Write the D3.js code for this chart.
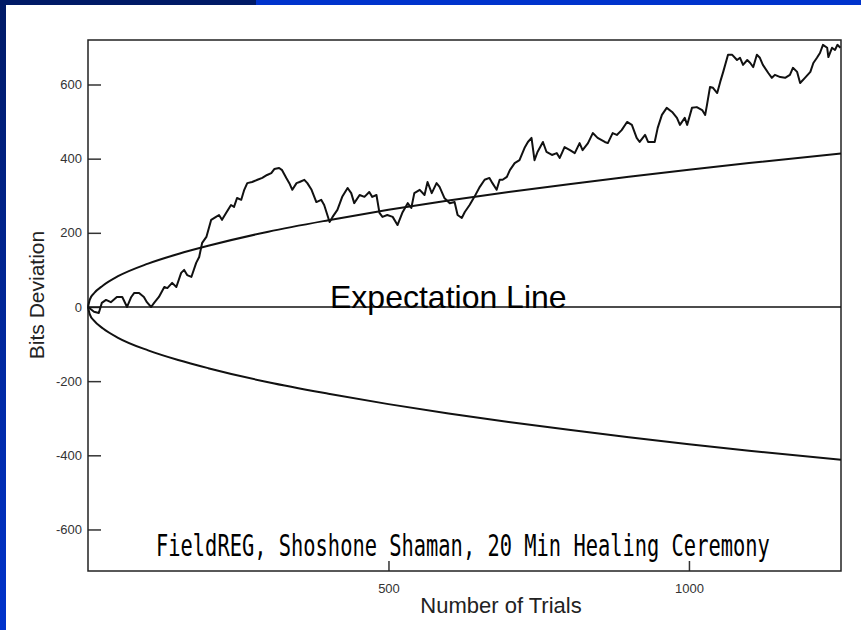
<!DOCTYPE html>
<html>
<head>
<meta charset="utf-8">
<script src="https://cdn.jsdelivr.net/npm/d3@7"></script>
<style>
  body { margin: 0; background: #fff; }
  svg { display: block; }
</style>
</head>
<body>
<div id="chart"></div>
<script>
// cumulative deviation trace
var trials = [0,10,18,23,30,38,48,57,65,72,77,85,93,98,105,110,118,127,132,140,147,155,160,165,172,180,185,190,197,205,213,218,223,230,238,243,248,255,260,265,273,282,290,298,305,310,318,323,330,335,340,347,352,360,365,372,380,388,393,402,407,415,423,432,438,443,452,460,468,473,480,485,490,498,507,515,523,532,538,543,552,560,565,572,580,585,593,602,610,615,622,627,635,643,652,660,668,673,680,685,690,697,702,710,718,727,732,738,743,748,757,763,772,780,785,793,802,810,818,823,832,840,848,860,865,873,880,888,897,905,913,918,927,932,943,948,955,963,972,980,985,993,997,1005,1013,1022,1027,1030,1035,1040,1047,1052,1057,1065,1072,1080,1085,1090,1097,1102,1107,1113,1118,1123,1132,1138,1143,1152,1160,1168,1173,1180,1185,1193,1202,1207,1213,1218,1223,1230,1232,1238,1243,1247,1252];
var deviation = [0,-13,-16,11,19,13,27,27,0,27,38,38,27,13,0,11,27,54,51,65,54,92,100,86,81,119,135,173,189,235,243,248,235,254,275,270,294,289,316,334,337,343,348,356,361,372,375,369,348,334,316,334,337,343,334,316,283,289,275,229,243,262,297,321,307,280,302,297,310,297,302,254,243,248,243,221,254,280,267,307,316,302,337,307,334,324,294,280,283,248,240,256,275,297,324,343,348,334,316,343,343,351,369,388,396,431,445,456,396,418,445,418,410,415,402,431,423,415,442,423,442,469,456,445,442,469,464,477,499,491,456,445,464,445,445,483,518,537,526,510,491,510,491,537,539,531,518,545,593,591,577,607,634,680,680,666,672,653,666,658,647,680,672,653,631,618,626,620,618,626,645,634,604,618,634,658,672,685,707,699,674,699,693,707,699];

// confidence envelope
var envTrials = [0,3,10,25,50,100,150,200,300,400,500,600,700,800,900,1000,1100,1253];
var envUpper = [0,20,37,58,83,117,143,165,203,234,262,287,310,331,351,370,388,414];
var envLower = [0,-20,-37,-58,-83,-117,-143,-165,-203,-234,-262,-287,-310,-331,-351,-370,-388,-412];

var xTicks = [500, 1000];
var yTicks = [-600, -400, -200, 0, 200, 400, 600];

var svgWidth = 861;
var svgHeight = 630;

var margin = { top: 40, right: 20, bottom: 59, left: 88 };
var width = svgWidth - margin.left - margin.right;
var height = svgHeight - margin.top - margin.bottom;

var svg = d3.select("#chart")
    .append("svg")
    .attr("width", svgWidth)
    .attr("height", svgHeight);

// slide frame
var grad = svg.append("defs").append("linearGradient")
    .attr("id", "sideGrad")
    .attr("x1", 0).attr("y1", 0).attr("x2", 0).attr("y2", 1);
grad.append("stop").attr("offset", "0%").attr("stop-color", "#001a66");
grad.append("stop").attr("offset", "100%").attr("stop-color", "#0033cc");

svg.append("rect").attr("x", 0).attr("y", 0).attr("width", 6).attr("height", svgHeight).attr("fill", "url(#sideGrad)");
svg.append("rect").attr("x", 0).attr("y", 0).attr("width", 256).attr("height", 5).attr("fill", "#001a66");
svg.append("rect").attr("x", 256).attr("y", 0).attr("width", svgWidth - 256).attr("height", 5).attr("fill", "#0033cc");

var chartGroup = svg.append("g")
    .attr("transform", `translate(${margin.left}, ${margin.top})`);

var xLinearScale = d3.scaleLinear()
    .domain([0, 1253])
    .range([0, width]);

var yLinearScale = d3.scaleLinear()
    .domain([-712, 720])
    .range([height, 0]);

// axes with inward ticks, plain hyphen minus and no thousands comma
var bottomAxis = d3.axisBottom(xLinearScale)
    .tickValues(xTicks)
    .tickFormat(d => String(d))
    .tickSizeInner(-10)
    .tickSizeOuter(0)
    .tickPadding(13);

var leftAxis = d3.axisLeft(yLinearScale)
    .tickValues(yTicks)
    .tickFormat(d => String(d))
    .tickSizeInner(-13)
    .tickSizeOuter(0)
    .tickPadding(6);

var xAxisG = chartGroup.append("g")
    .attr("transform", `translate(0, ${height})`)
    .call(bottomAxis);

var yAxisG = chartGroup.append("g")
    .call(leftAxis);

[xAxisG, yAxisG].forEach(function(g) {
    g.select(".domain").remove();
    g.selectAll("line").attr("stroke", "#333").attr("stroke-width", 1.5);
    g.selectAll("text")
      .attr("font-family", "Liberation Sans, Arial, sans-serif")
      .attr("font-size", "13px")
      .attr("fill", "#333");
});

// frame box
chartGroup.append("rect")
    .attr("x", 0).attr("y", 0)
    .attr("width", width).attr("height", height)
    .attr("fill", "none")
    .attr("stroke", "#222")
    .attr("stroke-width", 1.5);

// expectation line
chartGroup.append("line")
    .attr("x1", 0).attr("x2", width)
    .attr("y1", yLinearScale(0)).attr("y2", yLinearScale(0))
    .attr("stroke", "#111")
    .attr("stroke-width", 1.5);

var envLine = d3.line()
    .x((d, i) => xLinearScale(envTrials[i]))
    .y(d => yLinearScale(d))
    .curve(d3.curveMonotoneX);

chartGroup.append("path")
    .attr("d", envLine(envUpper))
    .attr("fill", "none")
    .attr("stroke", "#111")
    .attr("stroke-width", 2);

chartGroup.append("path")
    .attr("d", envLine(envLower))
    .attr("fill", "none")
    .attr("stroke", "#111")
    .attr("stroke-width", 2);

var walkLine = d3.line()
    .x((d, i) => xLinearScale(trials[i]))
    .y(d => yLinearScale(d));

chartGroup.append("path")
    .attr("d", walkLine(deviation))
    .attr("fill", "none")
    .attr("stroke", "#111")
    .attr("stroke-width", 2)
    .attr("stroke-linejoin", "round");

// labels
chartGroup.append("text")
    .attr("x", 242)
    .attr("y", yLinearScale(0) + 1)
    .attr("font-family", "Liberation Sans, Arial, sans-serif")
    .attr("font-size", "32px")
    .attr("fill", "#000")
    .text("Expectation Line");

// condensed monospace caption, squeezed sideways like the old printout
chartGroup.append("text")
    .attr("transform", "translate(68, 516) scale(0.68, 1)")
    .attr("font-family", "DejaVu Sans Mono, monospace")
    .attr("font-size", "30px")
    .attr("fill", "#000")
    .text("FieldREG, Shoshone Shaman, 20 Min Healing Ceremony");

svg.append("text")
    .attr("x", 501)
    .attr("y", 613)
    .attr("text-anchor", "middle")
    .attr("font-family", "Liberation Sans, Arial, sans-serif")
    .attr("font-size", "22px")
    .attr("fill", "#222")
    .text("Number of Trials");

svg.append("text")
    .attr("transform", "translate(44, 295) rotate(-90)")
    .attr("text-anchor", "middle")
    .attr("font-family", "Liberation Sans, Arial, sans-serif")
    .attr("font-size", "21px")
    .attr("fill", "#222")
    .text("Bits Deviation");
</script>
</body>
</html>
